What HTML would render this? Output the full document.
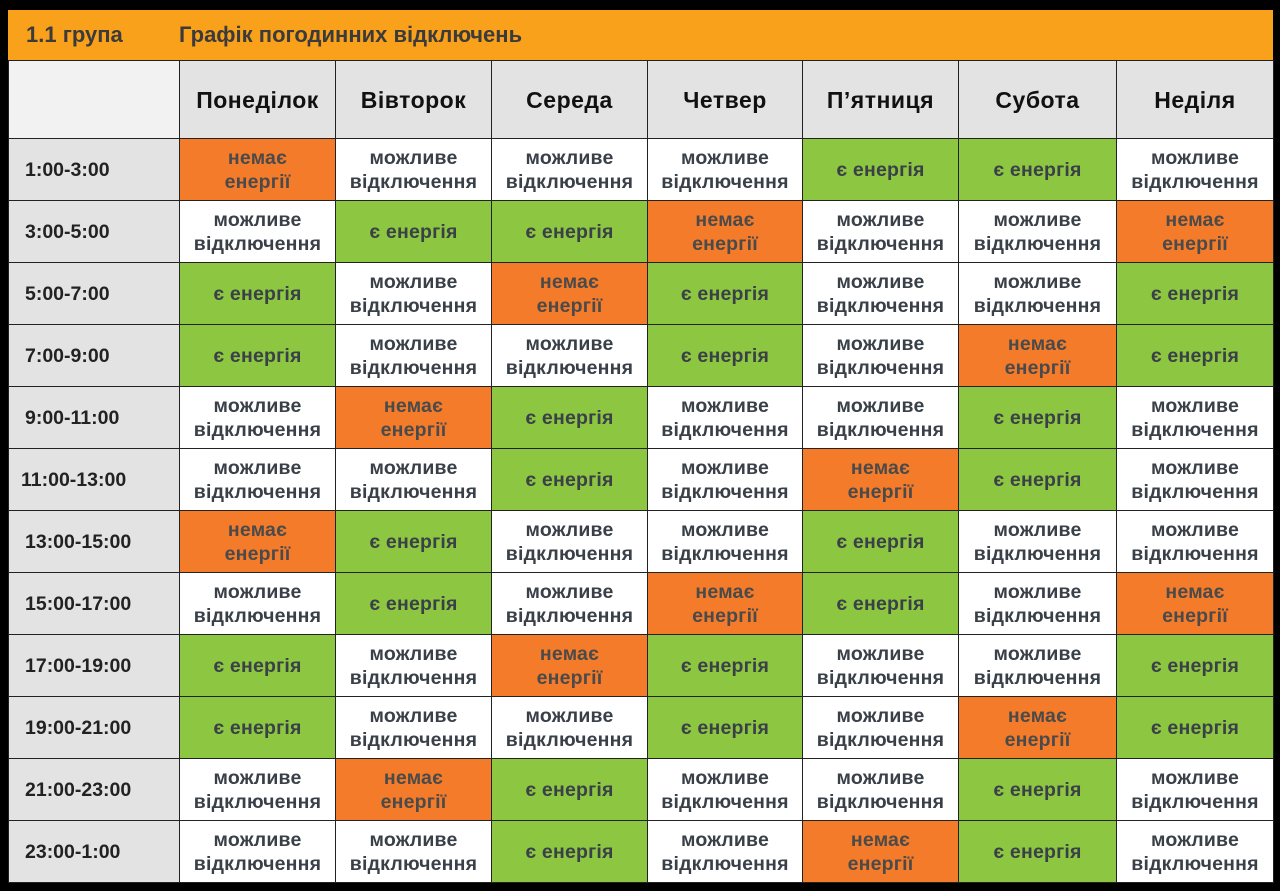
<!DOCTYPE html>
<html><head><meta charset="utf-8"><style>
body{margin:0;width:1280px;height:891px;background:#000;overflow:hidden;font-family:"Liberation Sans","DejaVu Sans",sans-serif;}
.top{position:absolute;left:8px;top:10px;width:1265px;height:50px;background:#f9a11b;color:#3b3b3b;font-weight:bold;font-size:22px;}
.top span{position:absolute;top:12px}
table{position:absolute;left:8px;top:60px;border-collapse:collapse;table-layout:fixed;width:1265px;}
td{border:1px solid #222;text-align:center;vertical-align:middle;font-weight:bold;font-size:19.5px;line-height:24px;color:#3a4048;padding:0;background:#fff;letter-spacing:0.2px}
tr{height:62px}
tr.h{height:78px}
tr.h td{background:#e3e3e3;color:#111;font-size:23px;letter-spacing:0.5px}
tr.h td.c{background:#f2f2f2}
td.t{background:#e3e3e3;text-align:left;padding-left:16px;font-size:19.5px;color:#222;letter-spacing:0}
.N{background:#f47b2a;color:#4a4a4a}
.E{background:#8dc641}
</style></head><body>
<div class="top"><span style="left:18px">1.1 група</span><span style="left:171px">Графік погодинних відключень</span></div>
<table>
<colgroup><col style="width:171px"><col style="width:156px"><col style="width:156px"><col style="width:156px"><col style="width:155px"><col style="width:156px"><col style="width:158px"><col style="width:157px"></colgroup>
<tr class="h"><td class="c"></td><td>Понеділок</td><td>Вівторок</td><td>Середа</td><td>Четвер</td><td>П’ятниця</td><td>Субота</td><td>Неділя</td></tr>
<tr><td class="t">1:00-3:00</td><td class="N">немає<br>енергії</td><td>можливе<br>відключення</td><td>можливе<br>відключення</td><td>можливе<br>відключення</td><td class="E">є енергія</td><td class="E">є енергія</td><td>можливе<br>відключення</td></tr>
<tr><td class="t">3:00-5:00</td><td>можливе<br>відключення</td><td class="E">є енергія</td><td class="E">є енергія</td><td class="N">немає<br>енергії</td><td>можливе<br>відключення</td><td>можливе<br>відключення</td><td class="N">немає<br>енергії</td></tr>
<tr><td class="t">5:00-7:00</td><td class="E">є енергія</td><td>можливе<br>відключення</td><td class="N">немає<br>енергії</td><td class="E">є енергія</td><td>можливе<br>відключення</td><td>можливе<br>відключення</td><td class="E">є енергія</td></tr>
<tr><td class="t">7:00-9:00</td><td class="E">є енергія</td><td>можливе<br>відключення</td><td>можливе<br>відключення</td><td class="E">є енергія</td><td>можливе<br>відключення</td><td class="N">немає<br>енергії</td><td class="E">є енергія</td></tr>
<tr><td class="t">9:00-11:00</td><td>можливе<br>відключення</td><td class="N">немає<br>енергії</td><td class="E">є енергія</td><td>можливе<br>відключення</td><td>можливе<br>відключення</td><td class="E">є енергія</td><td>можливе<br>відключення</td></tr>
<tr><td class="t" style="padding-left:12px">11:00-13:00</td><td>можливе<br>відключення</td><td>можливе<br>відключення</td><td class="E">є енергія</td><td>можливе<br>відключення</td><td class="N">немає<br>енергії</td><td class="E">є енергія</td><td>можливе<br>відключення</td></tr>
<tr><td class="t">13:00-15:00</td><td class="N">немає<br>енергії</td><td class="E">є енергія</td><td>можливе<br>відключення</td><td>можливе<br>відключення</td><td class="E">є енергія</td><td>можливе<br>відключення</td><td>можливе<br>відключення</td></tr>
<tr><td class="t">15:00-17:00</td><td>можливе<br>відключення</td><td class="E">є енергія</td><td>можливе<br>відключення</td><td class="N">немає<br>енергії</td><td class="E">є енергія</td><td>можливе<br>відключення</td><td class="N">немає<br>енергії</td></tr>
<tr><td class="t">17:00-19:00</td><td class="E">є енергія</td><td>можливе<br>відключення</td><td class="N">немає<br>енергії</td><td class="E">є енергія</td><td>можливе<br>відключення</td><td>можливе<br>відключення</td><td class="E">є енергія</td></tr>
<tr><td class="t">19:00-21:00</td><td class="E">є енергія</td><td>можливе<br>відключення</td><td>можливе<br>відключення</td><td class="E">є енергія</td><td>можливе<br>відключення</td><td class="N">немає<br>енергії</td><td class="E">є енергія</td></tr>
<tr><td class="t">21:00-23:00</td><td>можливе<br>відключення</td><td class="N">немає<br>енергії</td><td class="E">є енергія</td><td>можливе<br>відключення</td><td>можливе<br>відключення</td><td class="E">є енергія</td><td>можливе<br>відключення</td></tr>
<tr><td class="t">23:00-1:00</td><td>можливе<br>відключення</td><td>можливе<br>відключення</td><td class="E">є енергія</td><td>можливе<br>відключення</td><td class="N">немає<br>енергії</td><td class="E">є енергія</td><td>можливе<br>відключення</td></tr>
</table>
</body></html>
